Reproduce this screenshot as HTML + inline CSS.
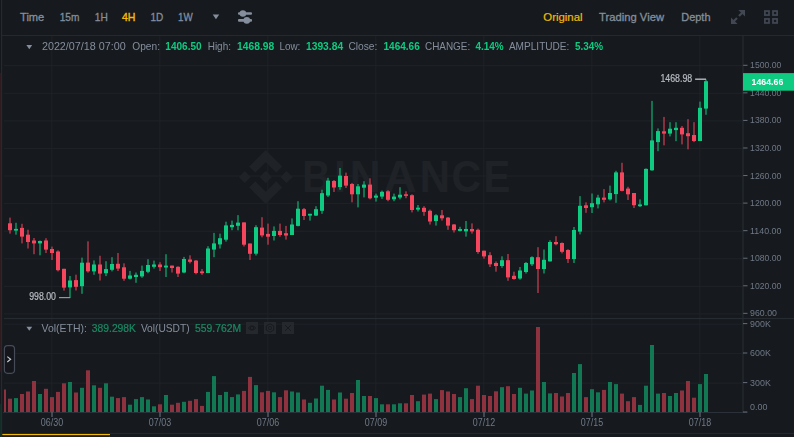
<!DOCTYPE html>
<html><head><meta charset="utf-8"><title>Chart</title>
<style>html,body{margin:0;padding:0;background:#161a1e;overflow:hidden}#wrap{position:relative;width:794px;height:437px;overflow:hidden}svg{display:block;position:absolute;left:0;top:0}svg.ov{will-change:transform}</style></head>
<body>
<div id="wrap">
<svg width="794" height="437" viewBox="0 0 794 437" font-family="Liberation Sans, sans-serif">
<rect width="794" height="437" fill="#161a1e"/>
<rect x="0" y="0" width="1" height="73" fill="#14171b"/>
<rect x="0" y="73" width="1" height="299" fill="#2d1b20"/>
<rect x="0" y="404" width="1" height="33" fill="#142c26"/>
<rect x="1" y="0" width="1.2" height="437" fill="#252930"/>
<rect x="2" y="35" width="792" height="1" fill="#24282f"/>
<rect x="51.3" y="36" width="1" height="376" fill="#1f2329"/>
<rect x="159.3" y="36" width="1" height="376" fill="#1f2329"/>
<rect x="267.3" y="36" width="1" height="376" fill="#1f2329"/>
<rect x="375.3" y="36" width="1" height="376" fill="#1f2329"/>
<rect x="483.3" y="36" width="1" height="376" fill="#1f2329"/>
<rect x="591.3" y="36" width="1" height="376" fill="#1f2329"/>
<rect x="699.3" y="36" width="1" height="376" fill="#1f2329"/>
<rect x="4" y="65.20" width="739" height="1" fill="#1f2329"/>
<rect x="4" y="92.78" width="739" height="1" fill="#1f2329"/>
<rect x="4" y="120.36" width="739" height="1" fill="#1f2329"/>
<rect x="4" y="147.94" width="739" height="1" fill="#1f2329"/>
<rect x="4" y="175.52" width="739" height="1" fill="#1f2329"/>
<rect x="4" y="203.10" width="739" height="1" fill="#1f2329"/>
<rect x="4" y="230.68" width="739" height="1" fill="#1f2329"/>
<rect x="4" y="258.26" width="739" height="1" fill="#1f2329"/>
<rect x="4" y="285.84" width="739" height="1" fill="#1f2329"/>
<rect x="4" y="313.42" width="739" height="1" fill="#1f2329"/>
<rect x="4" y="323.70" width="739" height="1" fill="#1f2329"/>
<rect x="4" y="353.10" width="739" height="1" fill="#1f2329"/>
<rect x="4" y="382.60" width="739" height="1" fill="#1f2329"/>
<g fill="#1f2227">
<g transform="translate(238.7,150) scale(0.4265)">
<path d="M38.73,53.2 63.3,28.63 87.88,53.21 102.18,38.91 63.3,0 24.43,38.9Z"/>
<path d="M0,63.31 14.3,49 28.6,63.31 14.3,77.61Z"/>
<path d="M38.73,73.41 63.3,98 87.88,73.4 102.19,87.69 63.3,126.61 24.43,87.74Z"/>
<path d="M98,63.31 112.3,49 126.6,63.31 112.3,77.61Z"/>
<path d="M77.83,63.3 63.3,48.78 48.78,63.3 63.3,77.83Z"/>
</g>
<text transform="translate(302.24,192.1) scale(0.883,1)" font-size="44" font-weight="bold">B</text>
<text transform="translate(334.01,192.1) scale(0.963,1)" font-size="44" font-weight="bold">I</text>
<text transform="translate(349.80,192.1) scale(0.967,1)" font-size="44" font-weight="bold">N</text>
<text transform="translate(383.48,192.1) scale(1.044,1)" font-size="44" font-weight="bold">A</text>
<text transform="translate(419.66,192.1) scale(0.947,1)" font-size="44" font-weight="bold">N</text>
<text transform="translate(451.41,192.1) scale(0.928,1)" font-size="44" font-weight="bold">C</text>
<text transform="translate(483.14,192.1) scale(0.920,1)" font-size="44" font-weight="bold">E</text>
</g>
<rect x="4" y="317.9" width="790" height="1.2" fill="#262a31"/>
<rect x="742.4" y="36" width="1.2" height="376.5" fill="#272c33"/>
<rect x="3" y="412" width="744.5" height="1" fill="#2b3139"/>
<rect x="110" y="432.9" width="684" height="1" fill="#262a30"/>
<rect x="2.3" y="433" width="107.7" height="3" fill="#141927"/>
<rect x="2.3" y="433.9" width="107.7" height="1.25" fill="#f0b90b"/>
<rect x="2.3" y="436" width="107.7" height="1" fill="#1c1f25"/>
<rect x="109" y="435.5" width="1" height="1.5" fill="#2a2e36"/>
<rect x="4" y="389.50" width="2" height="22.50" fill="#8e3240"/>
<rect x="8" y="398.70" width="4" height="13.30" fill="#8e3240"/>
<rect x="14" y="398.10" width="4" height="13.90" fill="#117853"/>
<rect x="20" y="394.00" width="4" height="18.00" fill="#8e3240"/>
<rect x="26" y="391.50" width="4" height="20.50" fill="#8e3240"/>
<rect x="32" y="381.00" width="4" height="31.00" fill="#8e3240"/>
<rect x="38" y="394.00" width="4" height="18.00" fill="#117853"/>
<rect x="44" y="388.80" width="4" height="23.20" fill="#8e3240"/>
<rect x="50" y="397.10" width="4" height="14.90" fill="#8e3240"/>
<rect x="56" y="391.90" width="4" height="20.10" fill="#8e3240"/>
<rect x="62" y="383.30" width="4" height="28.70" fill="#8e3240"/>
<rect x="68" y="382.00" width="4" height="30.00" fill="#117853"/>
<rect x="74" y="392.50" width="4" height="19.50" fill="#8e3240"/>
<rect x="80" y="387.80" width="4" height="24.20" fill="#117853"/>
<rect x="86" y="370.30" width="4" height="41.70" fill="#8e3240"/>
<rect x="92" y="385.30" width="4" height="26.70" fill="#117853"/>
<rect x="98" y="387.80" width="4" height="24.20" fill="#8e3240"/>
<rect x="104" y="383.30" width="4" height="28.70" fill="#117853"/>
<rect x="110" y="396.70" width="4" height="15.30" fill="#117853"/>
<rect x="116" y="398.10" width="4" height="13.90" fill="#8e3240"/>
<rect x="122" y="397.10" width="4" height="14.90" fill="#8e3240"/>
<rect x="128" y="404.70" width="4" height="7.30" fill="#117853"/>
<rect x="134" y="399.10" width="4" height="12.90" fill="#117853"/>
<rect x="140" y="397.10" width="4" height="14.90" fill="#117853"/>
<rect x="146" y="399.50" width="4" height="12.50" fill="#117853"/>
<rect x="152" y="406.30" width="4" height="5.70" fill="#117853"/>
<rect x="158" y="404.30" width="4" height="7.70" fill="#8e3240"/>
<rect x="164" y="395.00" width="4" height="17.00" fill="#117853"/>
<rect x="170" y="404.70" width="4" height="7.30" fill="#8e3240"/>
<rect x="176" y="402.80" width="4" height="9.20" fill="#8e3240"/>
<rect x="182" y="401.80" width="4" height="10.20" fill="#117853"/>
<rect x="188" y="400.80" width="4" height="11.20" fill="#8e3240"/>
<rect x="194" y="399.10" width="4" height="12.90" fill="#8e3240"/>
<rect x="200" y="405.90" width="4" height="6.10" fill="#8e3240"/>
<rect x="206" y="391.90" width="4" height="20.10" fill="#117853"/>
<rect x="212" y="376.10" width="4" height="35.90" fill="#117853"/>
<rect x="218" y="395.00" width="4" height="17.00" fill="#117853"/>
<rect x="224" y="391.90" width="4" height="20.10" fill="#117853"/>
<rect x="230" y="397.10" width="4" height="14.90" fill="#117853"/>
<rect x="236" y="394.40" width="4" height="17.60" fill="#117853"/>
<rect x="242" y="390.90" width="4" height="21.10" fill="#8e3240"/>
<rect x="248" y="376.90" width="4" height="35.10" fill="#8e3240"/>
<rect x="254" y="385.10" width="4" height="26.90" fill="#117853"/>
<rect x="260" y="392.30" width="4" height="19.70" fill="#8e3240"/>
<rect x="266" y="390.90" width="4" height="21.10" fill="#8e3240"/>
<rect x="272" y="392.30" width="4" height="19.70" fill="#117853"/>
<rect x="278" y="397.10" width="4" height="14.90" fill="#8e3240"/>
<rect x="284" y="390.30" width="4" height="21.70" fill="#8e3240"/>
<rect x="290" y="391.50" width="4" height="20.50" fill="#117853"/>
<rect x="296" y="392.50" width="4" height="19.50" fill="#117853"/>
<rect x="302" y="399.50" width="4" height="12.50" fill="#8e3240"/>
<rect x="308" y="402.80" width="4" height="9.20" fill="#117853"/>
<rect x="314" y="398.50" width="4" height="13.50" fill="#117853"/>
<rect x="320" y="385.70" width="4" height="26.30" fill="#117853"/>
<rect x="326" y="389.90" width="4" height="22.10" fill="#117853"/>
<rect x="332" y="399.50" width="4" height="12.50" fill="#8e3240"/>
<rect x="338" y="392.50" width="4" height="19.50" fill="#117853"/>
<rect x="344" y="398.70" width="4" height="13.30" fill="#8e3240"/>
<rect x="350" y="393.00" width="4" height="19.00" fill="#8e3240"/>
<rect x="356" y="380.00" width="4" height="32.00" fill="#117853"/>
<rect x="362" y="396.00" width="4" height="16.00" fill="#117853"/>
<rect x="368" y="396.00" width="4" height="16.00" fill="#8e3240"/>
<rect x="374" y="398.10" width="4" height="13.90" fill="#117853"/>
<rect x="380" y="404.30" width="4" height="7.70" fill="#117853"/>
<rect x="386" y="404.30" width="4" height="7.70" fill="#8e3240"/>
<rect x="392" y="404.30" width="4" height="7.70" fill="#117853"/>
<rect x="398" y="403.30" width="4" height="8.70" fill="#117853"/>
<rect x="404" y="403.30" width="4" height="8.70" fill="#8e3240"/>
<rect x="410" y="395.00" width="4" height="17.00" fill="#8e3240"/>
<rect x="416" y="401.20" width="4" height="10.80" fill="#117853"/>
<rect x="422" y="394.60" width="4" height="17.40" fill="#8e3240"/>
<rect x="428" y="393.60" width="4" height="18.40" fill="#8e3240"/>
<rect x="434" y="399.10" width="4" height="12.90" fill="#117853"/>
<rect x="440" y="390.10" width="4" height="21.90" fill="#8e3240"/>
<rect x="446" y="391.50" width="4" height="20.50" fill="#8e3240"/>
<rect x="452" y="394.00" width="4" height="18.00" fill="#8e3240"/>
<rect x="458" y="397.10" width="4" height="14.90" fill="#117853"/>
<rect x="464" y="388.20" width="4" height="23.80" fill="#117853"/>
<rect x="470" y="399.10" width="4" height="12.90" fill="#8e3240"/>
<rect x="476" y="385.70" width="4" height="26.30" fill="#8e3240"/>
<rect x="482" y="395.00" width="4" height="17.00" fill="#8e3240"/>
<rect x="488" y="396.00" width="4" height="16.00" fill="#8e3240"/>
<rect x="494" y="391.30" width="4" height="20.70" fill="#8e3240"/>
<rect x="500" y="387.20" width="4" height="24.80" fill="#117853"/>
<rect x="506" y="386.20" width="4" height="25.80" fill="#8e3240"/>
<rect x="512" y="394.00" width="4" height="18.00" fill="#8e3240"/>
<rect x="518" y="387.80" width="4" height="24.20" fill="#117853"/>
<rect x="524" y="393.60" width="4" height="18.40" fill="#117853"/>
<rect x="530" y="390.50" width="4" height="21.50" fill="#117853"/>
<rect x="536" y="327.00" width="4" height="85.00" fill="#8e3240"/>
<rect x="542" y="382.00" width="4" height="30.00" fill="#117853"/>
<rect x="548" y="393.40" width="4" height="18.60" fill="#117853"/>
<rect x="554" y="393.00" width="4" height="19.00" fill="#8e3240"/>
<rect x="560" y="396.50" width="4" height="15.50" fill="#8e3240"/>
<rect x="566" y="393.00" width="4" height="19.00" fill="#8e3240"/>
<rect x="572" y="373.00" width="4" height="39.00" fill="#117853"/>
<rect x="578" y="364.10" width="4" height="47.90" fill="#117853"/>
<rect x="584" y="397.10" width="4" height="14.90" fill="#8e3240"/>
<rect x="590" y="389.20" width="4" height="22.80" fill="#117853"/>
<rect x="596" y="392.30" width="4" height="19.70" fill="#117853"/>
<rect x="602" y="389.90" width="4" height="22.10" fill="#8e3240"/>
<rect x="608" y="382.00" width="4" height="30.00" fill="#117853"/>
<rect x="614" y="384.10" width="4" height="27.90" fill="#117853"/>
<rect x="620" y="393.60" width="4" height="18.40" fill="#8e3240"/>
<rect x="626" y="401.20" width="4" height="10.80" fill="#8e3240"/>
<rect x="632" y="397.10" width="4" height="14.90" fill="#8e3240"/>
<rect x="638" y="404.90" width="4" height="7.10" fill="#117853"/>
<rect x="644" y="385.70" width="4" height="26.30" fill="#117853"/>
<rect x="650" y="345.00" width="4" height="67.00" fill="#117853"/>
<rect x="656" y="393.60" width="4" height="18.40" fill="#117853"/>
<rect x="662" y="393.00" width="4" height="19.00" fill="#8e3240"/>
<rect x="668" y="396.00" width="4" height="16.00" fill="#117853"/>
<rect x="674" y="393.00" width="4" height="19.00" fill="#117853"/>
<rect x="680" y="390.50" width="4" height="21.50" fill="#8e3240"/>
<rect x="686" y="381.00" width="4" height="31.00" fill="#8e3240"/>
<rect x="692" y="397.70" width="4" height="14.30" fill="#8e3240"/>
<rect x="698" y="384.10" width="4" height="27.90" fill="#117853"/>
<rect x="704" y="374.00" width="4" height="38.00" fill="#117853"/>
<rect x="9.5" y="217.60" width="1" height="16.00" fill="#f6465d"/>
<rect x="8" y="223.30" width="4" height="6.90" fill="#f6465d"/>
<rect x="15.5" y="222.80" width="1" height="11.90" fill="#0ecb81"/>
<rect x="14" y="228.90" width="4" height="1.70" fill="#0ecb81"/>
<rect x="21.5" y="223.80" width="1" height="19.60" fill="#f6465d"/>
<rect x="20" y="227.90" width="4" height="8.70" fill="#f6465d"/>
<rect x="27.5" y="229.70" width="1" height="18.80" fill="#f6465d"/>
<rect x="26" y="234.70" width="4" height="7.30" fill="#f6465d"/>
<rect x="33.5" y="238.00" width="1" height="16.20" fill="#f6465d"/>
<rect x="32" y="240.50" width="4" height="2.90" fill="#f6465d"/>
<rect x="39.5" y="240.50" width="1" height="14.80" fill="#0ecb81"/>
<rect x="38" y="241.00" width="4" height="2.40" fill="#0ecb81"/>
<rect x="45.5" y="238.20" width="1" height="14.80" fill="#f6465d"/>
<rect x="44" y="240.50" width="4" height="9.10" fill="#f6465d"/>
<rect x="51.5" y="246.60" width="1" height="13.40" fill="#f6465d"/>
<rect x="50" y="249.00" width="4" height="4.00" fill="#f6465d"/>
<rect x="57.5" y="250.30" width="1" height="21.10" fill="#f6465d"/>
<rect x="56" y="251.50" width="4" height="18.70" fill="#f6465d"/>
<rect x="63.5" y="268.80" width="1" height="21.90" fill="#f6465d"/>
<rect x="62" y="268.80" width="4" height="18.80" fill="#f6465d"/>
<rect x="69.5" y="276.00" width="1" height="21.60" fill="#0ecb81"/>
<rect x="68" y="280.50" width="4" height="6.90" fill="#0ecb81"/>
<rect x="75.5" y="274.70" width="1" height="15.80" fill="#f6465d"/>
<rect x="74" y="280.10" width="4" height="6.70" fill="#f6465d"/>
<rect x="81.5" y="257.60" width="1" height="36.20" fill="#0ecb81"/>
<rect x="80" y="262.70" width="4" height="23.50" fill="#0ecb81"/>
<rect x="87.5" y="241.30" width="1" height="31.30" fill="#f6465d"/>
<rect x="86" y="262.60" width="4" height="8.70" fill="#f6465d"/>
<rect x="93.5" y="260.40" width="1" height="14.40" fill="#0ecb81"/>
<rect x="92" y="264.50" width="4" height="6.90" fill="#0ecb81"/>
<rect x="99.5" y="255.80" width="1" height="24.70" fill="#f6465d"/>
<rect x="98" y="264.50" width="4" height="9.10" fill="#f6465d"/>
<rect x="105.5" y="261.20" width="1" height="14.90" fill="#0ecb81"/>
<rect x="104" y="269.10" width="4" height="4.10" fill="#0ecb81"/>
<rect x="111.5" y="257.20" width="1" height="14.20" fill="#0ecb81"/>
<rect x="110" y="264.00" width="4" height="5.80" fill="#0ecb81"/>
<rect x="117.5" y="253.00" width="1" height="18.00" fill="#f6465d"/>
<rect x="116" y="263.80" width="4" height="4.80" fill="#f6465d"/>
<rect x="123.5" y="263.30" width="1" height="17.50" fill="#f6465d"/>
<rect x="122" y="267.30" width="4" height="11.40" fill="#f6465d"/>
<rect x="129.5" y="270.90" width="1" height="8.50" fill="#0ecb81"/>
<rect x="128" y="275.50" width="4" height="3.20" fill="#0ecb81"/>
<rect x="135.5" y="272.50" width="1" height="10.30" fill="#0ecb81"/>
<rect x="134" y="274.80" width="4" height="2.20" fill="#0ecb81"/>
<rect x="141.5" y="265.60" width="1" height="12.20" fill="#0ecb81"/>
<rect x="140" y="270.90" width="4" height="5.50" fill="#0ecb81"/>
<rect x="147.5" y="259.20" width="1" height="14.00" fill="#0ecb81"/>
<rect x="146" y="265.00" width="4" height="6.80" fill="#0ecb81"/>
<rect x="153.5" y="260.60" width="1" height="8.00" fill="#0ecb81"/>
<rect x="152" y="264.50" width="4" height="2.30" fill="#0ecb81"/>
<rect x="159.5" y="262.20" width="1" height="8.80" fill="#f6465d"/>
<rect x="158" y="264.50" width="4" height="2.70" fill="#f6465d"/>
<rect x="165.5" y="254.20" width="1" height="22.80" fill="#0ecb81"/>
<rect x="164" y="265.60" width="4" height="1.90" fill="#0ecb81"/>
<rect x="171.5" y="265.60" width="1" height="6.90" fill="#f6465d"/>
<rect x="170" y="265.60" width="4" height="2.40" fill="#f6465d"/>
<rect x="177.5" y="266.30" width="1" height="10.70" fill="#f6465d"/>
<rect x="176" y="266.80" width="4" height="6.80" fill="#f6465d"/>
<rect x="183.5" y="256.90" width="1" height="16.30" fill="#0ecb81"/>
<rect x="182" y="259.00" width="4" height="13.50" fill="#0ecb81"/>
<rect x="189.5" y="255.30" width="1" height="8.10" fill="#f6465d"/>
<rect x="188" y="259.50" width="4" height="2.30" fill="#f6465d"/>
<rect x="195.5" y="260.00" width="1" height="14.30" fill="#f6465d"/>
<rect x="194" y="260.60" width="4" height="12.40" fill="#f6465d"/>
<rect x="201.5" y="269.00" width="1" height="5.80" fill="#f6465d"/>
<rect x="200" y="271.40" width="4" height="1.80" fill="#f6465d"/>
<rect x="207.5" y="246.20" width="1" height="26.80" fill="#0ecb81"/>
<rect x="206" y="248.50" width="4" height="24.50" fill="#0ecb81"/>
<rect x="213.5" y="232.90" width="1" height="24.30" fill="#0ecb81"/>
<rect x="212" y="243.40" width="4" height="6.20" fill="#0ecb81"/>
<rect x="219.5" y="233.60" width="1" height="14.90" fill="#0ecb81"/>
<rect x="218" y="238.20" width="4" height="6.20" fill="#0ecb81"/>
<rect x="225.5" y="221.70" width="1" height="19.90" fill="#0ecb81"/>
<rect x="224" y="225.40" width="4" height="14.30" fill="#0ecb81"/>
<rect x="231.5" y="220.60" width="1" height="9.60" fill="#0ecb81"/>
<rect x="230" y="224.90" width="4" height="2.30" fill="#0ecb81"/>
<rect x="237.5" y="215.10" width="1" height="15.20" fill="#0ecb81"/>
<rect x="236" y="222.60" width="4" height="3.20" fill="#0ecb81"/>
<rect x="243.5" y="222.40" width="1" height="24.10" fill="#f6465d"/>
<rect x="242" y="222.40" width="4" height="22.30" fill="#f6465d"/>
<rect x="249.5" y="243.50" width="1" height="16.50" fill="#f6465d"/>
<rect x="248" y="243.50" width="4" height="10.30" fill="#f6465d"/>
<rect x="255.5" y="225.20" width="1" height="30.30" fill="#0ecb81"/>
<rect x="254" y="227.20" width="4" height="26.50" fill="#0ecb81"/>
<rect x="261.5" y="217.20" width="1" height="20.10" fill="#f6465d"/>
<rect x="260" y="227.60" width="4" height="7.80" fill="#f6465d"/>
<rect x="267.5" y="223.60" width="1" height="21.10" fill="#f6465d"/>
<rect x="266" y="233.90" width="4" height="2.80" fill="#f6465d"/>
<rect x="273.5" y="226.40" width="1" height="14.10" fill="#0ecb81"/>
<rect x="272" y="230.90" width="4" height="5.10" fill="#0ecb81"/>
<rect x="279.5" y="223.60" width="1" height="13.10" fill="#f6465d"/>
<rect x="278" y="230.90" width="4" height="4.10" fill="#f6465d"/>
<rect x="285.5" y="225.90" width="1" height="13.70" fill="#f6465d"/>
<rect x="284" y="233.20" width="4" height="2.30" fill="#f6465d"/>
<rect x="291.5" y="218.40" width="1" height="16.60" fill="#0ecb81"/>
<rect x="290" y="224.50" width="4" height="10.50" fill="#0ecb81"/>
<rect x="297.5" y="201.20" width="1" height="25.20" fill="#0ecb81"/>
<rect x="296" y="208.70" width="4" height="17.20" fill="#0ecb81"/>
<rect x="303.5" y="208.00" width="1" height="12.00" fill="#f6465d"/>
<rect x="302" y="209.20" width="4" height="6.80" fill="#f6465d"/>
<rect x="309.5" y="213.80" width="1" height="6.80" fill="#0ecb81"/>
<rect x="308" y="213.80" width="4" height="1.80" fill="#0ecb81"/>
<rect x="315.5" y="206.20" width="1" height="9.80" fill="#0ecb81"/>
<rect x="314" y="209.20" width="4" height="6.40" fill="#0ecb81"/>
<rect x="321.5" y="189.70" width="1" height="24.10" fill="#0ecb81"/>
<rect x="320" y="193.20" width="4" height="17.60" fill="#0ecb81"/>
<rect x="327.5" y="177.80" width="1" height="19.20" fill="#0ecb81"/>
<rect x="326" y="180.60" width="4" height="14.90" fill="#0ecb81"/>
<rect x="333.5" y="180.00" width="1" height="12.00" fill="#f6465d"/>
<rect x="332" y="181.00" width="4" height="6.50" fill="#f6465d"/>
<rect x="339.5" y="168.00" width="1" height="21.70" fill="#0ecb81"/>
<rect x="338" y="175.60" width="4" height="11.40" fill="#0ecb81"/>
<rect x="345.5" y="172.60" width="1" height="15.40" fill="#f6465d"/>
<rect x="344" y="176.00" width="4" height="9.60" fill="#f6465d"/>
<rect x="351.5" y="182.90" width="1" height="19.40" fill="#f6465d"/>
<rect x="350" y="184.00" width="4" height="10.30" fill="#f6465d"/>
<rect x="357.5" y="184.00" width="1" height="23.40" fill="#0ecb81"/>
<rect x="356" y="186.30" width="4" height="8.00" fill="#0ecb81"/>
<rect x="363.5" y="181.20" width="1" height="16.20" fill="#0ecb81"/>
<rect x="362" y="184.60" width="4" height="3.10" fill="#0ecb81"/>
<rect x="369.5" y="178.30" width="1" height="21.00" fill="#f6465d"/>
<rect x="368" y="184.60" width="4" height="13.70" fill="#f6465d"/>
<rect x="375.5" y="193.60" width="1" height="8.00" fill="#0ecb81"/>
<rect x="374" y="195.60" width="4" height="2.10" fill="#0ecb81"/>
<rect x="381.5" y="190.60" width="1" height="8.30" fill="#0ecb81"/>
<rect x="380" y="191.80" width="4" height="4.80" fill="#0ecb81"/>
<rect x="387.5" y="190.20" width="1" height="11.00" fill="#f6465d"/>
<rect x="386" y="191.30" width="4" height="8.50" fill="#f6465d"/>
<rect x="393.5" y="193.60" width="1" height="7.60" fill="#0ecb81"/>
<rect x="392" y="196.60" width="4" height="2.70" fill="#0ecb81"/>
<rect x="399.5" y="187.20" width="1" height="12.10" fill="#0ecb81"/>
<rect x="398" y="194.70" width="4" height="2.80" fill="#0ecb81"/>
<rect x="405.5" y="191.30" width="1" height="6.90" fill="#f6465d"/>
<rect x="404" y="194.30" width="4" height="1.60" fill="#f6465d"/>
<rect x="411.5" y="194.30" width="1" height="18.10" fill="#f6465d"/>
<rect x="410" y="195.20" width="4" height="14.80" fill="#f6465d"/>
<rect x="417.5" y="205.00" width="1" height="6.50" fill="#0ecb81"/>
<rect x="416" y="207.70" width="4" height="1.90" fill="#0ecb81"/>
<rect x="423.5" y="206.20" width="1" height="9.60" fill="#f6465d"/>
<rect x="422" y="207.80" width="4" height="4.10" fill="#f6465d"/>
<rect x="429.5" y="209.60" width="1" height="14.90" fill="#f6465d"/>
<rect x="428" y="210.80" width="4" height="10.70" fill="#f6465d"/>
<rect x="435.5" y="214.20" width="1" height="11.40" fill="#0ecb81"/>
<rect x="434" y="215.30" width="4" height="5.70" fill="#0ecb81"/>
<rect x="441.5" y="210.00" width="1" height="10.60" fill="#f6465d"/>
<rect x="440" y="215.30" width="4" height="3.00" fill="#f6465d"/>
<rect x="447.5" y="217.00" width="1" height="12.80" fill="#f6465d"/>
<rect x="446" y="217.60" width="4" height="8.00" fill="#f6465d"/>
<rect x="453.5" y="224.00" width="1" height="8.50" fill="#f6465d"/>
<rect x="452" y="224.50" width="4" height="5.70" fill="#f6465d"/>
<rect x="459.5" y="226.80" width="1" height="4.60" fill="#0ecb81"/>
<rect x="458" y="229.00" width="4" height="1.90" fill="#0ecb81"/>
<rect x="465.5" y="221.00" width="1" height="15.60" fill="#0ecb81"/>
<rect x="464" y="229.00" width="4" height="2.40" fill="#0ecb81"/>
<rect x="471.5" y="223.40" width="1" height="10.20" fill="#f6465d"/>
<rect x="470" y="229.00" width="4" height="2.40" fill="#f6465d"/>
<rect x="477.5" y="228.60" width="1" height="25.20" fill="#f6465d"/>
<rect x="476" y="229.80" width="4" height="22.20" fill="#f6465d"/>
<rect x="483.5" y="250.70" width="1" height="8.00" fill="#f6465d"/>
<rect x="482" y="250.70" width="4" height="5.70" fill="#f6465d"/>
<rect x="489.5" y="252.20" width="1" height="14.80" fill="#f6465d"/>
<rect x="488" y="255.20" width="4" height="9.10" fill="#f6465d"/>
<rect x="495.5" y="261.40" width="1" height="10.30" fill="#f6465d"/>
<rect x="494" y="263.00" width="4" height="3.00" fill="#f6465d"/>
<rect x="501.5" y="256.30" width="1" height="11.50" fill="#0ecb81"/>
<rect x="500" y="260.20" width="4" height="5.80" fill="#0ecb81"/>
<rect x="507.5" y="254.00" width="1" height="26.80" fill="#f6465d"/>
<rect x="506" y="260.20" width="4" height="17.20" fill="#f6465d"/>
<rect x="513.5" y="271.70" width="1" height="8.00" fill="#f6465d"/>
<rect x="512" y="275.80" width="4" height="3.20" fill="#f6465d"/>
<rect x="519.5" y="267.00" width="1" height="12.70" fill="#0ecb81"/>
<rect x="518" y="270.50" width="4" height="8.00" fill="#0ecb81"/>
<rect x="525.5" y="262.00" width="1" height="11.50" fill="#0ecb81"/>
<rect x="524" y="263.00" width="4" height="9.00" fill="#0ecb81"/>
<rect x="531.5" y="256.30" width="1" height="9.70" fill="#0ecb81"/>
<rect x="530" y="257.20" width="4" height="7.10" fill="#0ecb81"/>
<rect x="537.5" y="247.20" width="1" height="45.80" fill="#f6465d"/>
<rect x="536" y="257.20" width="4" height="11.80" fill="#f6465d"/>
<rect x="543.5" y="249.50" width="1" height="24.00" fill="#0ecb81"/>
<rect x="542" y="259.80" width="4" height="9.20" fill="#0ecb81"/>
<rect x="549.5" y="240.30" width="1" height="21.10" fill="#0ecb81"/>
<rect x="548" y="242.00" width="4" height="19.40" fill="#0ecb81"/>
<rect x="555.5" y="236.20" width="1" height="9.10" fill="#f6465d"/>
<rect x="554" y="242.00" width="4" height="2.20" fill="#f6465d"/>
<rect x="561.5" y="242.40" width="1" height="11.00" fill="#f6465d"/>
<rect x="560" y="243.00" width="4" height="8.80" fill="#f6465d"/>
<rect x="567.5" y="249.20" width="1" height="13.80" fill="#f6465d"/>
<rect x="566" y="250.00" width="4" height="9.00" fill="#f6465d"/>
<rect x="573.5" y="227.00" width="1" height="36.00" fill="#0ecb81"/>
<rect x="572" y="230.00" width="4" height="29.00" fill="#0ecb81"/>
<rect x="579.5" y="196.10" width="1" height="38.30" fill="#0ecb81"/>
<rect x="578" y="205.80" width="4" height="25.80" fill="#0ecb81"/>
<rect x="585.5" y="202.30" width="1" height="10.50" fill="#f6465d"/>
<rect x="584" y="205.30" width="4" height="2.70" fill="#f6465d"/>
<rect x="591.5" y="193.50" width="1" height="19.50" fill="#0ecb81"/>
<rect x="590" y="203.20" width="4" height="4.00" fill="#0ecb81"/>
<rect x="597.5" y="194.80" width="1" height="13.60" fill="#0ecb81"/>
<rect x="596" y="197.60" width="4" height="6.70" fill="#0ecb81"/>
<rect x="603.5" y="189.10" width="1" height="13.30" fill="#f6465d"/>
<rect x="602" y="197.60" width="4" height="2.20" fill="#f6465d"/>
<rect x="609.5" y="185.60" width="1" height="14.90" fill="#0ecb81"/>
<rect x="608" y="193.00" width="4" height="6.40" fill="#0ecb81"/>
<rect x="615.5" y="170.80" width="1" height="32.00" fill="#0ecb81"/>
<rect x="614" y="172.40" width="4" height="21.70" fill="#0ecb81"/>
<rect x="621.5" y="162.80" width="1" height="28.60" fill="#f6465d"/>
<rect x="620" y="172.40" width="4" height="18.50" fill="#f6465d"/>
<rect x="627.5" y="186.80" width="1" height="13.20" fill="#f6465d"/>
<rect x="626" y="188.60" width="4" height="5.70" fill="#f6465d"/>
<rect x="633.5" y="193.00" width="1" height="15.00" fill="#f6465d"/>
<rect x="632" y="193.00" width="4" height="12.20" fill="#f6465d"/>
<rect x="639.5" y="199.40" width="1" height="7.60" fill="#0ecb81"/>
<rect x="638" y="204.40" width="4" height="1.80" fill="#0ecb81"/>
<rect x="645.5" y="168.40" width="1" height="36.90" fill="#0ecb81"/>
<rect x="644" y="168.90" width="4" height="36.40" fill="#0ecb81"/>
<rect x="651.5" y="100.90" width="1" height="69.90" fill="#0ecb81"/>
<rect x="650" y="140.40" width="4" height="29.90" fill="#0ecb81"/>
<rect x="657.5" y="128.40" width="1" height="22.80" fill="#0ecb81"/>
<rect x="656" y="131.10" width="4" height="11.00" fill="#0ecb81"/>
<rect x="663.5" y="116.90" width="1" height="28.40" fill="#f6465d"/>
<rect x="662" y="131.30" width="4" height="2.30" fill="#f6465d"/>
<rect x="669.5" y="122.20" width="1" height="14.20" fill="#0ecb81"/>
<rect x="668" y="128.70" width="4" height="4.90" fill="#0ecb81"/>
<rect x="675.5" y="122.20" width="1" height="19.00" fill="#0ecb81"/>
<rect x="674" y="127.80" width="4" height="2.30" fill="#0ecb81"/>
<rect x="681.5" y="126.00" width="1" height="18.40" fill="#f6465d"/>
<rect x="680" y="127.80" width="4" height="6.60" fill="#f6465d"/>
<rect x="687.5" y="119.20" width="1" height="30.10" fill="#f6465d"/>
<rect x="686" y="133.20" width="4" height="3.00" fill="#f6465d"/>
<rect x="693.5" y="122.20" width="1" height="19.90" fill="#f6465d"/>
<rect x="692" y="135.00" width="4" height="6.00" fill="#f6465d"/>
<rect x="699.5" y="101.60" width="1" height="39.40" fill="#0ecb81"/>
<rect x="698" y="107.80" width="4" height="33.20" fill="#0ecb81"/>
<rect x="705.5" y="79.40" width="1" height="35.40" fill="#0ecb81"/>
<rect x="704" y="81.20" width="4" height="27.40" fill="#0ecb81"/>
<text x="20" y="21.0" font-size="11" fill="#848e9c" stroke="#848e9c" stroke-width="0.3" textLength="24.3" lengthAdjust="spacingAndGlyphs">Time</text>
<text x="59.7" y="21.0" font-size="11" fill="#848e9c" stroke="#848e9c" stroke-width="0.3" textLength="19.7" lengthAdjust="spacingAndGlyphs">15m</text>
<text x="94.8" y="21.0" font-size="11" fill="#848e9c" stroke="#848e9c" stroke-width="0.3" textLength="13.0" lengthAdjust="spacingAndGlyphs">1H</text>
<text x="122" y="21.0" font-size="11" fill="#f0b90b" stroke="#f0b90b" stroke-width="0.4" textLength="13.5" lengthAdjust="spacingAndGlyphs">4H</text>
<text x="150.4" y="21.0" font-size="11" fill="#848e9c" stroke="#848e9c" stroke-width="0.3" textLength="12.8" lengthAdjust="spacingAndGlyphs">1D</text>
<text x="178" y="21.0" font-size="11" fill="#848e9c" stroke="#848e9c" stroke-width="0.3" textLength="14.7" lengthAdjust="spacingAndGlyphs">1W</text>
<path d="M212.7,14.6 L219.2,14.6 L215.95,19.2 Z" fill="#848e9c"/>
<g fill="#848e9c"><rect x="238" y="12.2" width="14" height="2.6" rx="1"/><circle cx="242.9" cy="13.5" r="3.3"/><rect x="238" y="19.1" width="14" height="2.6" rx="1"/><circle cx="246.8" cy="20.4" r="3.3"/></g>
<text x="543.3" y="20.5" font-size="11" fill="#f0b90b" stroke="#f0b90b" stroke-width="0.2" textLength="39.2" lengthAdjust="spacingAndGlyphs">Original</text>
<text x="599.1" y="20.5" font-size="11" fill="#848e9c" stroke="#848e9c" stroke-width="0.3" textLength="64.9" lengthAdjust="spacingAndGlyphs">Trading View</text>
<text x="681.3" y="20.5" font-size="11" fill="#848e9c" stroke="#848e9c" stroke-width="0.3" textLength="29.2" lengthAdjust="spacingAndGlyphs">Depth</text>
<g fill="#414753" stroke="#414753" stroke-width="0"><path d="M738.4,10 L745,10 L745,16.6 Z"/><path d="M731,17.4 L731,24 L737.6,24 Z"/><path d="M742.5,12.5 L739,16 M733.5,21.5 L737,18" stroke-width="2.3" fill="none"/></g>
<g fill="none" stroke="#414753" stroke-width="1.75"><rect x="764.9" y="11.05" width="4.1" height="4.0"/><rect x="773" y="11.05" width="4.1" height="4.0"/><rect x="764.9" y="18.95" width="4.1" height="4.0"/><rect x="773" y="18.95" width="4.1" height="4.0"/></g>
<rect x="4.4" y="345.6" width="10.1" height="27.7" rx="3.2" fill="#14161c" stroke="#464b58" stroke-width="1.2"/>
<path d="M7.3,356.6 L10.6,359.3 L7.3,362" fill="none" stroke="#c5c9d0" stroke-width="1.2"/>
</svg>
<svg class="ov" width="794" height="437" viewBox="0 0 794 437" font-family="Liberation Sans, sans-serif">
<rect x="743.2" y="64.80" width="4.3" height="1" fill="#656d7a"/>
<text x="750.1" y="68.3" font-size="9.5" fill="#6f7886" textLength="31.2" lengthAdjust="spacingAndGlyphs">1500.00</text>
<rect x="743.2" y="92.36" width="4.3" height="1" fill="#656d7a"/>
<text x="750.1" y="95.9" font-size="9.5" fill="#6f7886" textLength="31.2" lengthAdjust="spacingAndGlyphs">1440.00</text>
<rect x="743.2" y="119.92" width="4.3" height="1" fill="#656d7a"/>
<text x="750.1" y="123.4" font-size="9.5" fill="#6f7886" textLength="31.2" lengthAdjust="spacingAndGlyphs">1380.00</text>
<rect x="743.2" y="147.48" width="4.3" height="1" fill="#656d7a"/>
<text x="750.1" y="151.0" font-size="9.5" fill="#6f7886" textLength="31.2" lengthAdjust="spacingAndGlyphs">1320.00</text>
<rect x="743.2" y="175.04" width="4.3" height="1" fill="#656d7a"/>
<text x="750.1" y="178.5" font-size="9.5" fill="#6f7886" textLength="31.2" lengthAdjust="spacingAndGlyphs">1260.00</text>
<rect x="743.2" y="202.60" width="4.3" height="1" fill="#656d7a"/>
<text x="750.1" y="206.1" font-size="9.5" fill="#6f7886" textLength="31.2" lengthAdjust="spacingAndGlyphs">1200.00</text>
<rect x="743.2" y="230.16" width="4.3" height="1" fill="#656d7a"/>
<text x="750.1" y="233.7" font-size="9.5" fill="#6f7886" textLength="31.2" lengthAdjust="spacingAndGlyphs">1140.00</text>
<rect x="743.2" y="257.72" width="4.3" height="1" fill="#656d7a"/>
<text x="750.1" y="261.2" font-size="9.5" fill="#6f7886" textLength="31.2" lengthAdjust="spacingAndGlyphs">1080.00</text>
<rect x="743.2" y="285.28" width="4.3" height="1" fill="#656d7a"/>
<text x="750.1" y="288.8" font-size="9.5" fill="#6f7886" textLength="31.2" lengthAdjust="spacingAndGlyphs">1020.00</text>
<rect x="743.2" y="312.84" width="4.3" height="1" fill="#656d7a"/>
<text x="750.1" y="315.5" font-size="9.5" fill="#6f7886" textLength="26.8" lengthAdjust="spacingAndGlyphs">960.00</text>
<rect x="743" y="323.10" width="4.3" height="1" fill="#656d7a"/>
<text x="750.1" y="326.5" font-size="9.5" fill="#6f7886" textLength="20.7" lengthAdjust="spacingAndGlyphs">900K</text>
<rect x="743" y="352.50" width="4.3" height="1" fill="#656d7a"/>
<text x="750.1" y="355.9" font-size="9.5" fill="#6f7886" textLength="20.7" lengthAdjust="spacingAndGlyphs">600K</text>
<rect x="743" y="382.10" width="4.3" height="1" fill="#656d7a"/>
<text x="750.1" y="385.5" font-size="9.5" fill="#6f7886" textLength="20.7" lengthAdjust="spacingAndGlyphs">300K</text>
<rect x="743" y="411.5" width="4.3" height="1" fill="#656d7a"/>
<text x="750.1" y="409.8" font-size="9.5" fill="#6f7886" textLength="17.4" lengthAdjust="spacingAndGlyphs">0.00</text>
<rect x="743" y="73.1" width="51" height="17.6" fill="#0ecb81"/>
<text x="751.6" y="84.9" font-size="9.5" fill="#ffffff" font-weight="bold" textLength="31.7" lengthAdjust="spacingAndGlyphs">1464.66</text>
<rect x="51.5" y="412" width="1" height="5" fill="#6f7886"/>
<text x="40.8" y="426.1" font-size="10" fill="#6f7886" textLength="22.3" lengthAdjust="spacingAndGlyphs">06/30</text>
<rect x="159.5" y="412" width="1" height="5" fill="#6f7886"/>
<text x="148.8" y="426.1" font-size="10" fill="#6f7886" textLength="22.3" lengthAdjust="spacingAndGlyphs">07/03</text>
<rect x="267.5" y="412" width="1" height="5" fill="#6f7886"/>
<text x="256.8" y="426.1" font-size="10" fill="#6f7886" textLength="22.3" lengthAdjust="spacingAndGlyphs">07/06</text>
<rect x="375.5" y="412" width="1" height="5" fill="#6f7886"/>
<text x="364.8" y="426.1" font-size="10" fill="#6f7886" textLength="22.3" lengthAdjust="spacingAndGlyphs">07/09</text>
<rect x="483.5" y="412" width="1" height="5" fill="#6f7886"/>
<text x="472.8" y="426.1" font-size="10" fill="#6f7886" textLength="22.3" lengthAdjust="spacingAndGlyphs">07/12</text>
<rect x="591.5" y="412" width="1" height="5" fill="#6f7886"/>
<text x="580.8" y="426.1" font-size="10" fill="#6f7886" textLength="22.3" lengthAdjust="spacingAndGlyphs">07/15</text>
<rect x="699.5" y="412" width="1" height="5" fill="#6f7886"/>
<text x="688.8" y="426.1" font-size="10" fill="#6f7886" textLength="22.3" lengthAdjust="spacingAndGlyphs">07/18</text>
<text x="660.4" y="82.1" font-size="10" fill="#b9bdc4" stroke="#b9bdc4" stroke-width="0.2" textLength="31.8" lengthAdjust="spacingAndGlyphs">1468.98</text>
<rect x="695.1" y="78.5" width="10.9" height="1.4" fill="#b4b8bf"/>
<text x="29.2" y="299.5" font-size="10" fill="#b9bdc4" stroke="#b9bdc4" stroke-width="0.2" textLength="26.8" lengthAdjust="spacingAndGlyphs">998.00</text>
<rect x="59" y="297" width="11.3" height="1.2" fill="#9398a0"/>
<path d="M26.4,45.1 L32.2,45.1 L29.3,49.3 Z" fill="#848e9c"/>
<text x="41.9" y="49.9" font-size="10.5" fill="#848e9c" textLength="83.9" lengthAdjust="spacingAndGlyphs">2022/07/18 07:00</text>
<text x="132.3" y="49.9" font-size="10.5" fill="#848e9c" textLength="27.7" lengthAdjust="spacingAndGlyphs">Open:</text>
<text x="165.3" y="49.9" font-size="10.5" fill="#0ecb81" font-weight="bold" textLength="36.3" lengthAdjust="spacingAndGlyphs">1406.50</text>
<text x="207.7" y="49.9" font-size="10.5" fill="#848e9c" textLength="23.3" lengthAdjust="spacingAndGlyphs">High:</text>
<text x="237" y="49.9" font-size="10.5" fill="#0ecb81" font-weight="bold" textLength="37.2" lengthAdjust="spacingAndGlyphs">1468.98</text>
<text x="279.4" y="49.9" font-size="10.5" fill="#848e9c" textLength="21.0" lengthAdjust="spacingAndGlyphs">Low:</text>
<text x="306" y="49.9" font-size="10.5" fill="#0ecb81" font-weight="bold" textLength="37.1" lengthAdjust="spacingAndGlyphs">1393.84</text>
<text x="348.4" y="49.9" font-size="10.5" fill="#848e9c" textLength="29.0" lengthAdjust="spacingAndGlyphs">Close:</text>
<text x="383.5" y="49.9" font-size="10.5" fill="#0ecb81" font-weight="bold" textLength="36.3" lengthAdjust="spacingAndGlyphs">1464.66</text>
<text x="425" y="49.9" font-size="10.5" fill="#848e9c" textLength="45.2" lengthAdjust="spacingAndGlyphs">CHANGE:</text>
<text x="475.4" y="49.9" font-size="10.5" fill="#0ecb81" font-weight="bold" textLength="28.2" lengthAdjust="spacingAndGlyphs">4.14%</text>
<text x="508.9" y="49.9" font-size="10.5" fill="#848e9c" textLength="60.5" lengthAdjust="spacingAndGlyphs">AMPLITUDE:</text>
<text x="575" y="49.9" font-size="10.5" fill="#0ecb81" font-weight="bold" textLength="28.2" lengthAdjust="spacingAndGlyphs">5.34%</text>
<path d="M26.4,326.8 L32.2,326.8 L29.3,330.7 Z" fill="#848e9c"/>
<text x="41.6" y="332.1" font-size="10.5" fill="#848e9c" textLength="45.3" lengthAdjust="spacingAndGlyphs">Vol(ETH):</text>
<text x="91.8" y="332.1" font-size="10.5" fill="#1b8a63" stroke="#1b8a63" stroke-width="0.2" textLength="44.2" lengthAdjust="spacingAndGlyphs">389.298K</text>
<text x="140.9" y="332.1" font-size="10.5" fill="#848e9c" textLength="48.7" lengthAdjust="spacingAndGlyphs">Vol(USDT)</text>
<text x="195" y="332.1" font-size="10.5" fill="#1b8a63" stroke="#1b8a63" stroke-width="0.2" textLength="46.0" lengthAdjust="spacingAndGlyphs">559.762M</text>
<rect x="246" y="322" width="12" height="12" fill="#25292e"/>
<rect x="264" y="322" width="12" height="12" fill="#25292e"/>
<rect x="282" y="322" width="12" height="12" fill="#25292e"/>
<g fill="none" stroke="#171a1f" stroke-width="1">
<path d="M248.3,328 Q252,323.6 255.7,328 Q252,332.4 248.3,328 Z"/><circle cx="252" cy="328" r="1.6"/>
<path d="M270,323.8 L273.7,325.9 L273.7,330.1 L270,332.2 L266.3,330.1 L266.3,325.9 Z"/><circle cx="270" cy="328" r="1.6" stroke-width="0.8"/>
<path d="M285,325 L291,331 M291,325 L285,331"/>
</g>
</svg>
</div>
</body></html>
